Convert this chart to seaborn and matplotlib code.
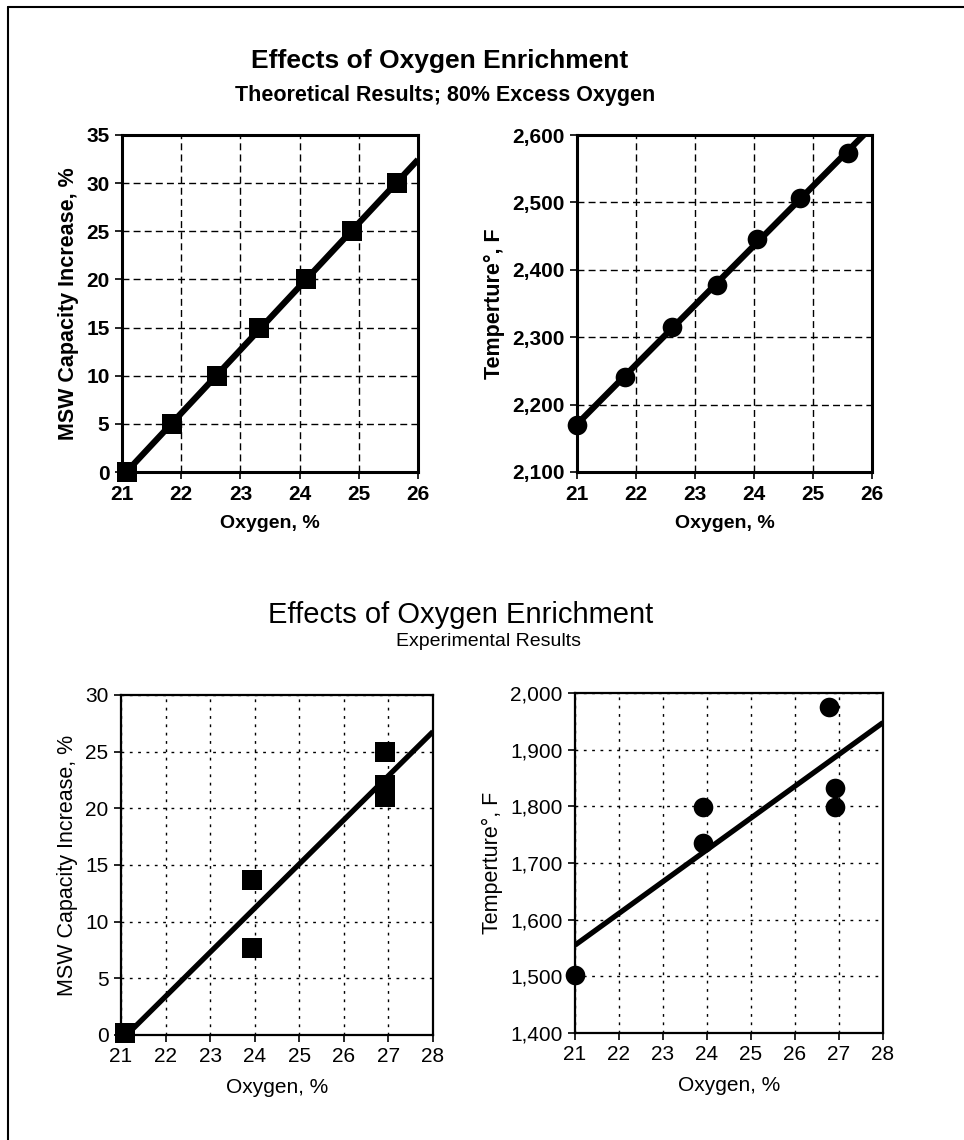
import numpy as np
import pandas as pd
import matplotlib
matplotlib.use("Agg")
import matplotlib.pyplot as plt
from matplotlib.ticker import FuncFormatter
from matplotlib.lines import Line2D
import seaborn as sns

# ---- data ----
theo_oxygen_cap = [21.08, 21.84, 22.6, 23.32, 24.1, 24.88, 25.64]
theo_capacity = [0, 5, 10, 15, 20, 25, 30]

theo_oxygen_temp = [21.0, 21.81, 22.61, 23.37, 24.05, 24.78, 25.6]
theo_temperature = [2170, 2241, 2315, 2378, 2445, 2507, 2573]

exp_oxygen_cap = [21.1, 23.95, 23.95, 26.93, 26.93, 26.93]
exp_capacity = [0.2, 13.7, 7.7, 25.0, 22.1, 21.0]

exp_oxygen_temp = [21.0, 23.9, 23.9, 26.78, 26.9, 26.9]
exp_temperature = [1503, 1798, 1736, 1975, 1832, 1798]

top_title = "Effects of Oxygen Enrichment"
top_subtitle = "Theoretical Results; 80% Excess Oxygen"
bottom_title = "Effects of Oxygen Enrichment"
bottom_subtitle = "Experimental Results"
xlabel = "Oxygen, %"
ylabel_cap = "MSW Capacity Increase, %"
ylabel_temp = "Temperture\u00b0, F"

sns.set_style("white")
plt.rcParams["font.family"] = ["Liberation Sans", "DejaVu Sans"]
plt.rcParams["text.color"] = "black"
plt.rcParams["axes.labelcolor"] = "black"
plt.rcParams["xtick.color"] = "black"
plt.rcParams["ytick.color"] = "black"

W, H = 964, 1140
fig = plt.figure(figsize=(W / 100, H / 100), dpi=100)


def px_axes(x0, y0, x1, y1):
    return fig.add_axes([x0 / W, 1 - y1 / H, (x1 - x0) / W, (y1 - y0) / H])


thousands = FuncFormatter(lambda v, p: f"{v:,.0f}")


def style_axes(ax, bold, spine_w, grid_dash, tick_size):
    for s in ax.spines.values():
        s.set_visible(True)
        s.set_color("black")
        s.set_linewidth(spine_w)
    ax.grid(True, color="black", linewidth=1.0, linestyle=(0, grid_dash))
    ax.set_axisbelow(True)
    ax.tick_params(axis="both", direction="out", length=5, width=1.2,
                   color="black", pad=4, labelsize=tick_size, bottom=True, left=True)
    for lab in ax.get_xticklabels() + ax.get_yticklabels():
        lab.set_fontweight("bold" if bold else "normal")
        lab.set_color("black")


def panel(ax, x, y, marker, ms, lw, xlim, ylim, xticks, yticks, ylab, bold,
          spine_w, grid_dash, tick_size, lab_size, ylab_size, yfmt=None):
    ax.set_xlim(*xlim)
    ax.set_ylim(*ylim)
    df = pd.DataFrame({"x": x, "y": y})
    sns.regplot(data=df, x="x", y="y", ax=ax, scatter=False, ci=None,
                truncate=False, color="black", line_kws={"linewidth": lw,
                                                         "solid_capstyle": "butt"})
    sns.scatterplot(data=df, x="x", y="y", ax=ax, marker=marker, s=ms,
                    color="black", edgecolor="black", linewidth=0, zorder=5,
                    clip_on=False)
    ax.set_xlim(*xlim)
    ax.set_ylim(*ylim)
    ax.set_xticks(xticks)
    ax.set_yticks(yticks)
    if yfmt is not None:
        ax.yaxis.set_major_formatter(yfmt)
    w = "bold" if bold else "normal"
    ax.set_xlabel(xlabel, fontsize=lab_size, fontweight=w, labelpad=8)
    ax.set_ylabel(ylab, fontsize=ylab_size, fontweight=w, labelpad=5)
    style_axes(ax, bold, spine_w, grid_dash, tick_size)


# ---- top row (theoretical) ----
ax1 = px_axes(122, 135, 418, 472)
panel(ax1, theo_oxygen_cap, theo_capacity, "s", 190, 4.5, (21, 26), (0, 35),
      range(21, 27), range(0, 36, 5), ylabel_cap, True, 2.2, (5, 3), 15, 14, 15.5)

ax2 = px_axes(577, 135, 872, 472)
panel(ax2, theo_oxygen_temp, theo_temperature, "o", 200, 4.5, (21, 26), (2100, 2600),
      range(21, 27), range(2100, 2601, 100), ylabel_temp, True, 2.2, (5, 3), 15, 14, 15.5,
      yfmt=thousands)

# ---- bottom row (experimental) ----
ax3 = px_axes(121, 695, 433, 1035)
panel(ax3, exp_oxygen_cap, exp_capacity, "s", 210, 3.8, (21, 28), (0, 30),
      range(21, 29), range(0, 31, 5), ylabel_cap, False, 1.6, (2, 4), 15, 15, 15.5)

ax4 = px_axes(575, 693, 883, 1033)
panel(ax4, exp_oxygen_temp, exp_temperature, "o", 200, 3.8, (21, 28), (1400, 2000),
      range(21, 29), range(1400, 2001, 100), ylabel_temp, False, 1.6, (2, 4), 15, 15, 15.5,
      yfmt=thousands)

# ---- titles ----
fig.text(440 / W, 1 - 61 / H, top_title, ha="center", va="center",
         fontsize=19, fontweight="bold")
fig.text(445 / W, 1 - 96 / H, top_subtitle, ha="center", va="center",
         fontsize=15.5, fontweight="bold")
fig.text(461 / W, 1 - 615 / H, bottom_title, ha="center", va="center",
         fontsize=21)
fig.text(489 / W, 1 - 642 / H, bottom_subtitle, ha="center", va="center",
         fontsize=14)

# ---- frame (left and top edges) ----
fig.add_artist(Line2D([8 / W, 8 / W], [0, 1 - 7 / H], transform=fig.transFigure,
                      color="black", linewidth=1.5))
fig.add_artist(Line2D([8 / W, 1], [1 - 7 / H, 1 - 7 / H], transform=fig.transFigure,
                      color="black", linewidth=1.5))

fig.savefig("out.png", dpi=100, facecolor="white")
